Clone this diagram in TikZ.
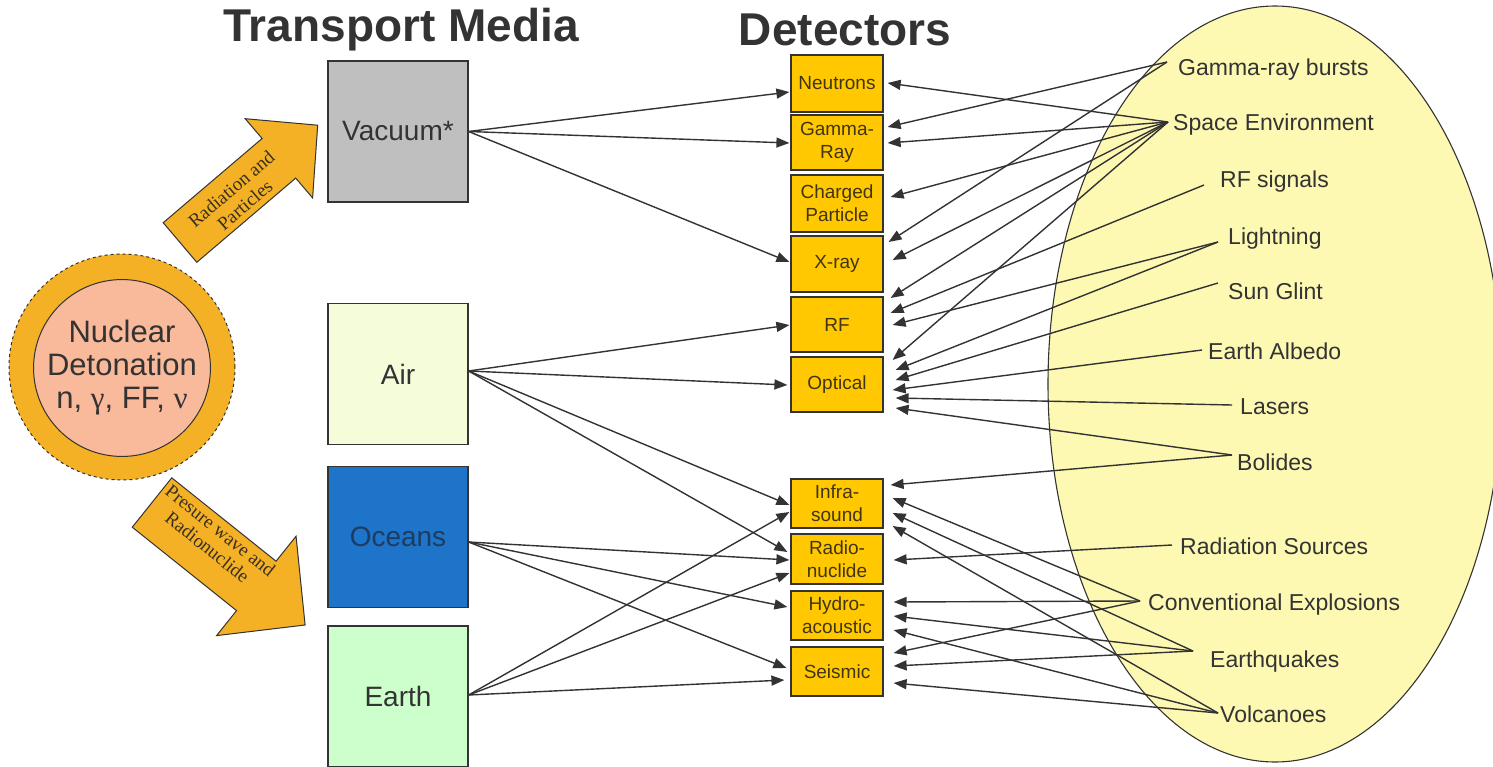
\documentclass[tikz,border=0pt]{standalone}
\usepackage{fontspec}
\setmainfont{Liberation Sans}
\newfontfamily\tnr{Liberation Serif}
\usetikzlibrary{arrows.meta,calc,shapes.geometric}
\definecolor{lineC}{HTML}{333333}
\definecolor{txtC}{HTML}{333333}
\definecolor{detC}{HTML}{FFC800}
\definecolor{detTxt}{HTML}{403510}
\definecolor{arrC}{HTML}{F4B125}
\definecolor{peachC}{HTML}{F9B99B}
\definecolor{vacC}{HTML}{BFBFBF}
\definecolor{airC}{HTML}{F4FCD9}
\definecolor{oceC}{HTML}{1E74C8}
\definecolor{oceTxt}{HTML}{1D3C60}
\definecolor{earC}{HTML}{CCFFCC}
\definecolor{ellC}{HTML}{FDF9B3}
\definecolor{arrTxt}{HTML}{3A3020}
\begin{document}
\begin{tikzpicture}[x=1pt,y=-1pt,
  conn/.style={draw=lineC, line width=1.4pt, -{Triangle[length=13pt,width=10pt]}},
  media/.style={draw=lineC, line width=1.2pt, minimum width=140pt, minimum height=141pt, inner sep=0pt, font=\fontsize{28}{32}\selectfont, text=txtC},
  det/.style={draw=lineC, line width=1.2pt, fill=detC, minimum width=92pt, inner sep=0pt, align=center, font=\fontsize{19}{23}\selectfont, text=detTxt},
  src/.style={anchor=west, inner sep=0pt, text height=16pt, text depth=5pt, font=\fontsize{23}{27}\selectfont, text=txtC},
  ttl/.style={font=\fontsize{46}{50}\selectfont\bfseries, text=txtC},
  blockarrow/.style={fill=arrC, draw=lineC, line width=1pt},
  arrlbl/.style={align=center, inner sep=0pt, text=arrTxt, font=\tnr\fontsize{19}{21}\selectfont}
]
\useasboundingbox (0,0) rectangle (1493,766);

% titles
\node[ttl] (t1) at (401,30) {Transport Media};
\node[ttl] (t2) at (845,30) {Detectors};

% ellipse of sources
\node[ellipse, draw=lineC, line width=1.1pt, fill=ellC, minimum width=454pt, minimum height=756pt, inner sep=0pt] (ell) at (1275,384) {};

% nuclear detonation
\node[circle, draw=lineC, dashed, line width=1pt, fill=arrC, minimum size=226pt, inner sep=0pt] (ring) at (122,367) {};
\node[circle, draw=lineC, line width=1pt, fill=peachC, minimum size=176pt, inner sep=0pt, align=center, text=txtC, font=\fontsize{31}{33}\selectfont] (nd) at (122,368) {Nuclear\\Detonation\\n, {\tnr γ}, FF, {\tnr ν}};

% block arrows
\path[blockarrow] (163.2,222.7) -- (262.1,138.5) -- (245.2,118.7) -- (317.7,125.2) -- (312.6,197.9) -- (295.7,178.1) -- (196.8,262.3) -- cycle;
\node[arrlbl, rotate=40.4] (rap) at (238,197) {Radiation and\\Particles};
\path[blockarrow] (171.75,477.8) -- (276.05,561.2) -- (296.05,536.2) -- (305.1,625) -- (216.55,635.6) -- (236.55,610.6) -- (132.25,527.2) -- cycle;
\node[arrlbl, rotate=-38.7] (pwr) at (214,539) {Presure wave and\\Radionuclide};

% transport media
\node[media, fill=vacC] (vac) at (398,131.5) {Vacuum*};
\node[media, fill=airC] (air) at (398,374) {Air};
\node[media, fill=oceC, text=oceTxt] (oce) at (398,537) {Oceans};
\node[media, fill=earC] (ear) at (398,696.5) {Earth};

% detectors
\node[det, minimum height=57pt] (neu) at (837,83.5) {Neutrons};
\node[det, minimum height=55pt] (gam) at (837,142.5) {Gamma-\\Ray};
\node[det, minimum height=57pt] (chg) at (837,203.5) {Charged\\Particle};
\node[det, minimum height=56pt] (xry) at (837,264) {X-ray};
\node[det, minimum height=55pt] (rf) at (837,324.5) {RF};
\node[det, minimum height=55pt] (opt) at (837,384.5) {Optical};
\node[det, minimum height=49pt] (inf) at (837,503.5) {Infra-\\sound};
\node[det, minimum height=50pt] (rad) at (837,559) {Radio-\\nuclide};
\node[det, minimum height=49pt] (hyd) at (837,615.5) {Hydro-\\acoustic};
\node[det, minimum height=49pt] (sei) at (837,671.5) {Seismic};

% source labels
\node[src] (grb) at (1178,70) {Gamma-ray bursts};
\node[src] (se) at (1173,125) {Space Environment};
\node[src] (rfs) at (1220,182) {RF signals};
\node[src] (lig) at (1228,239) {Lightning};
\node[src] (sun) at (1228,294) {Sun Glint};
\node[src] (alb) at (1208,354) {Earth Albedo};
\node[src] (las) at (1240,409) {Lasers};
\node[src] (bol) at (1237,465) {Bolides};
\node[src] (rsrc) at (1180,549) {Radiation Sources};
\node[src] (conv) at (1148,605) {Conventional Explosions};
\node[src] (eq) at (1210,662) {Earthquakes};
\node[src] (vol) at (1220,717) {Volcanoes};

\coordinate (grbP) at ($(grb.west)+(-11,-8)$);
\coordinate (seP) at ($(se.west)+(-5,-3)$);
\coordinate (rfsP) at ($(rfs.west)+(-16,3)$);
\coordinate (ligP) at ($(lig.west)+(-10,3)$);
\coordinate (sunP) at ($(sun.west)+(-10,-11)$);
\coordinate (albP) at ($(alb.west)+(-6,-4)$);
\coordinate (lasP) at ($(las.west)+(-8,-4)$);
\coordinate (bolP) at ($(bol.west)+(-5,-10)$);
\coordinate (rsrcP) at ($(rsrc.west)+(-8,-4)$);
\coordinate (convP) at ($(conv.west)+(-8,-4)$);
\coordinate (eqP) at ($(eq.west)+(-17,-11)$);
\coordinate (volP) at ($(vol.west)+(-2,-4)$);

% media -> detectors
\draw[conn] (vac.east) -- ($(neu.west)+(-1,8.5)$);
\draw[conn] (vac.east) -- ($(gam.west)+(-1,0.5)$);
\draw[conn] (vac.east) -- ($(xry.west)+(-1,-2)$);
\draw[conn] ($(air.east)+(0,-3)$) -- ($(rf.west)+(-1,0.5)$);
\draw[conn] ($(air.east)+(0,-3)$) -- ($(opt.west)+(-3,0.5)$);
\draw[conn] ($(air.east)+(0,-3)$) -- ($(inf.west)+(-1,1.5)$);
\draw[conn] ($(air.east)+(0,-3)$) -- ($(rad.west)+(-3,-7)$);
\draw[conn] ($(oce.east)+(0,5)$) -- ($(rad.west)+(-1,1)$);
\draw[conn] ($(oce.east)+(0,5)$) -- ($(hyd.west)+(-3,-8.5)$);
\draw[conn] ($(oce.east)+(0,5)$) -- ($(sei.west)+(-4,-3.5)$);
\draw[conn] ($(ear.east)+(0,-1.5)$) -- ($(inf.west)+(-1,8.5)$);
\draw[conn] ($(ear.east)+(0,-1.5)$) -- ($(rad.west)+(-1,14)$);
\draw[conn] ($(ear.east)+(0,-1.5)$) -- ($(sei.west)+(-6,8.5)$);

% sources -> detectors
\draw[conn] (grbP) -- ($(gam.east)+(4,-15.5)$);
\draw[conn] (grbP) -- ($(xry.east)+(5,-22)$);
\draw[conn] (seP) -- ($(neu.east)+(4,-0.5)$);
\draw[conn] (seP) -- ($(gam.east)+(4,0.5)$);
\draw[conn] (seP) -- ($(chg.east)+(7,-6.5)$);
\draw[conn] (seP) -- ($(xry.east)+(9,-4)$);
\draw[conn] (seP) -- ($(rf.east)+(7,-26.5)$);
\draw[conn] (seP) -- ($(opt.east)+(9,-24.5)$);
\draw[conn] (rfsP) -- ($(rf.east)+(7,-11.5)$);
\draw[conn] (ligP) -- ($(rf.east)+(9,0.5)$);
\draw[conn] (ligP) -- ($(opt.east)+(12,-14.5)$);
\draw[conn] (sunP) -- ($(opt.east)+(12,-4.5)$);
\draw[conn] (albP) -- ($(opt.east)+(9,5.5)$);
\draw[conn] (lasP) -- ($(opt.east)+(12,13.5)$);
\draw[conn] (bolP) -- ($(opt.east)+(12,23.5)$);
\draw[conn] (bolP) -- ($(inf.east)+(7,-18.5)$);
\draw[conn] (rsrcP) -- ($(rad.east)+(10,1)$);
\draw[conn] (convP) -- ($(inf.east)+(9,-5.5)$);
\draw[conn] (convP) -- ($(hyd.east)+(10,-13.5)$);
\draw[conn] (convP) -- ($(sei.east)+(10,-18.5)$);
\draw[conn] (eqP) -- ($(inf.east)+(9,9.5)$);
\draw[conn] (eqP) -- ($(hyd.east)+(10,0.5)$);
\draw[conn] (eqP) -- ($(sei.east)+(10,-5.5)$);
\draw[conn] (volP) -- ($(inf.east)+(9,22.5)$);
\draw[conn] (volP) -- ($(hyd.east)+(10,14.5)$);
\draw[conn] (volP) -- ($(sei.east)+(10,11.5)$);
\end{tikzpicture}
\end{document}
